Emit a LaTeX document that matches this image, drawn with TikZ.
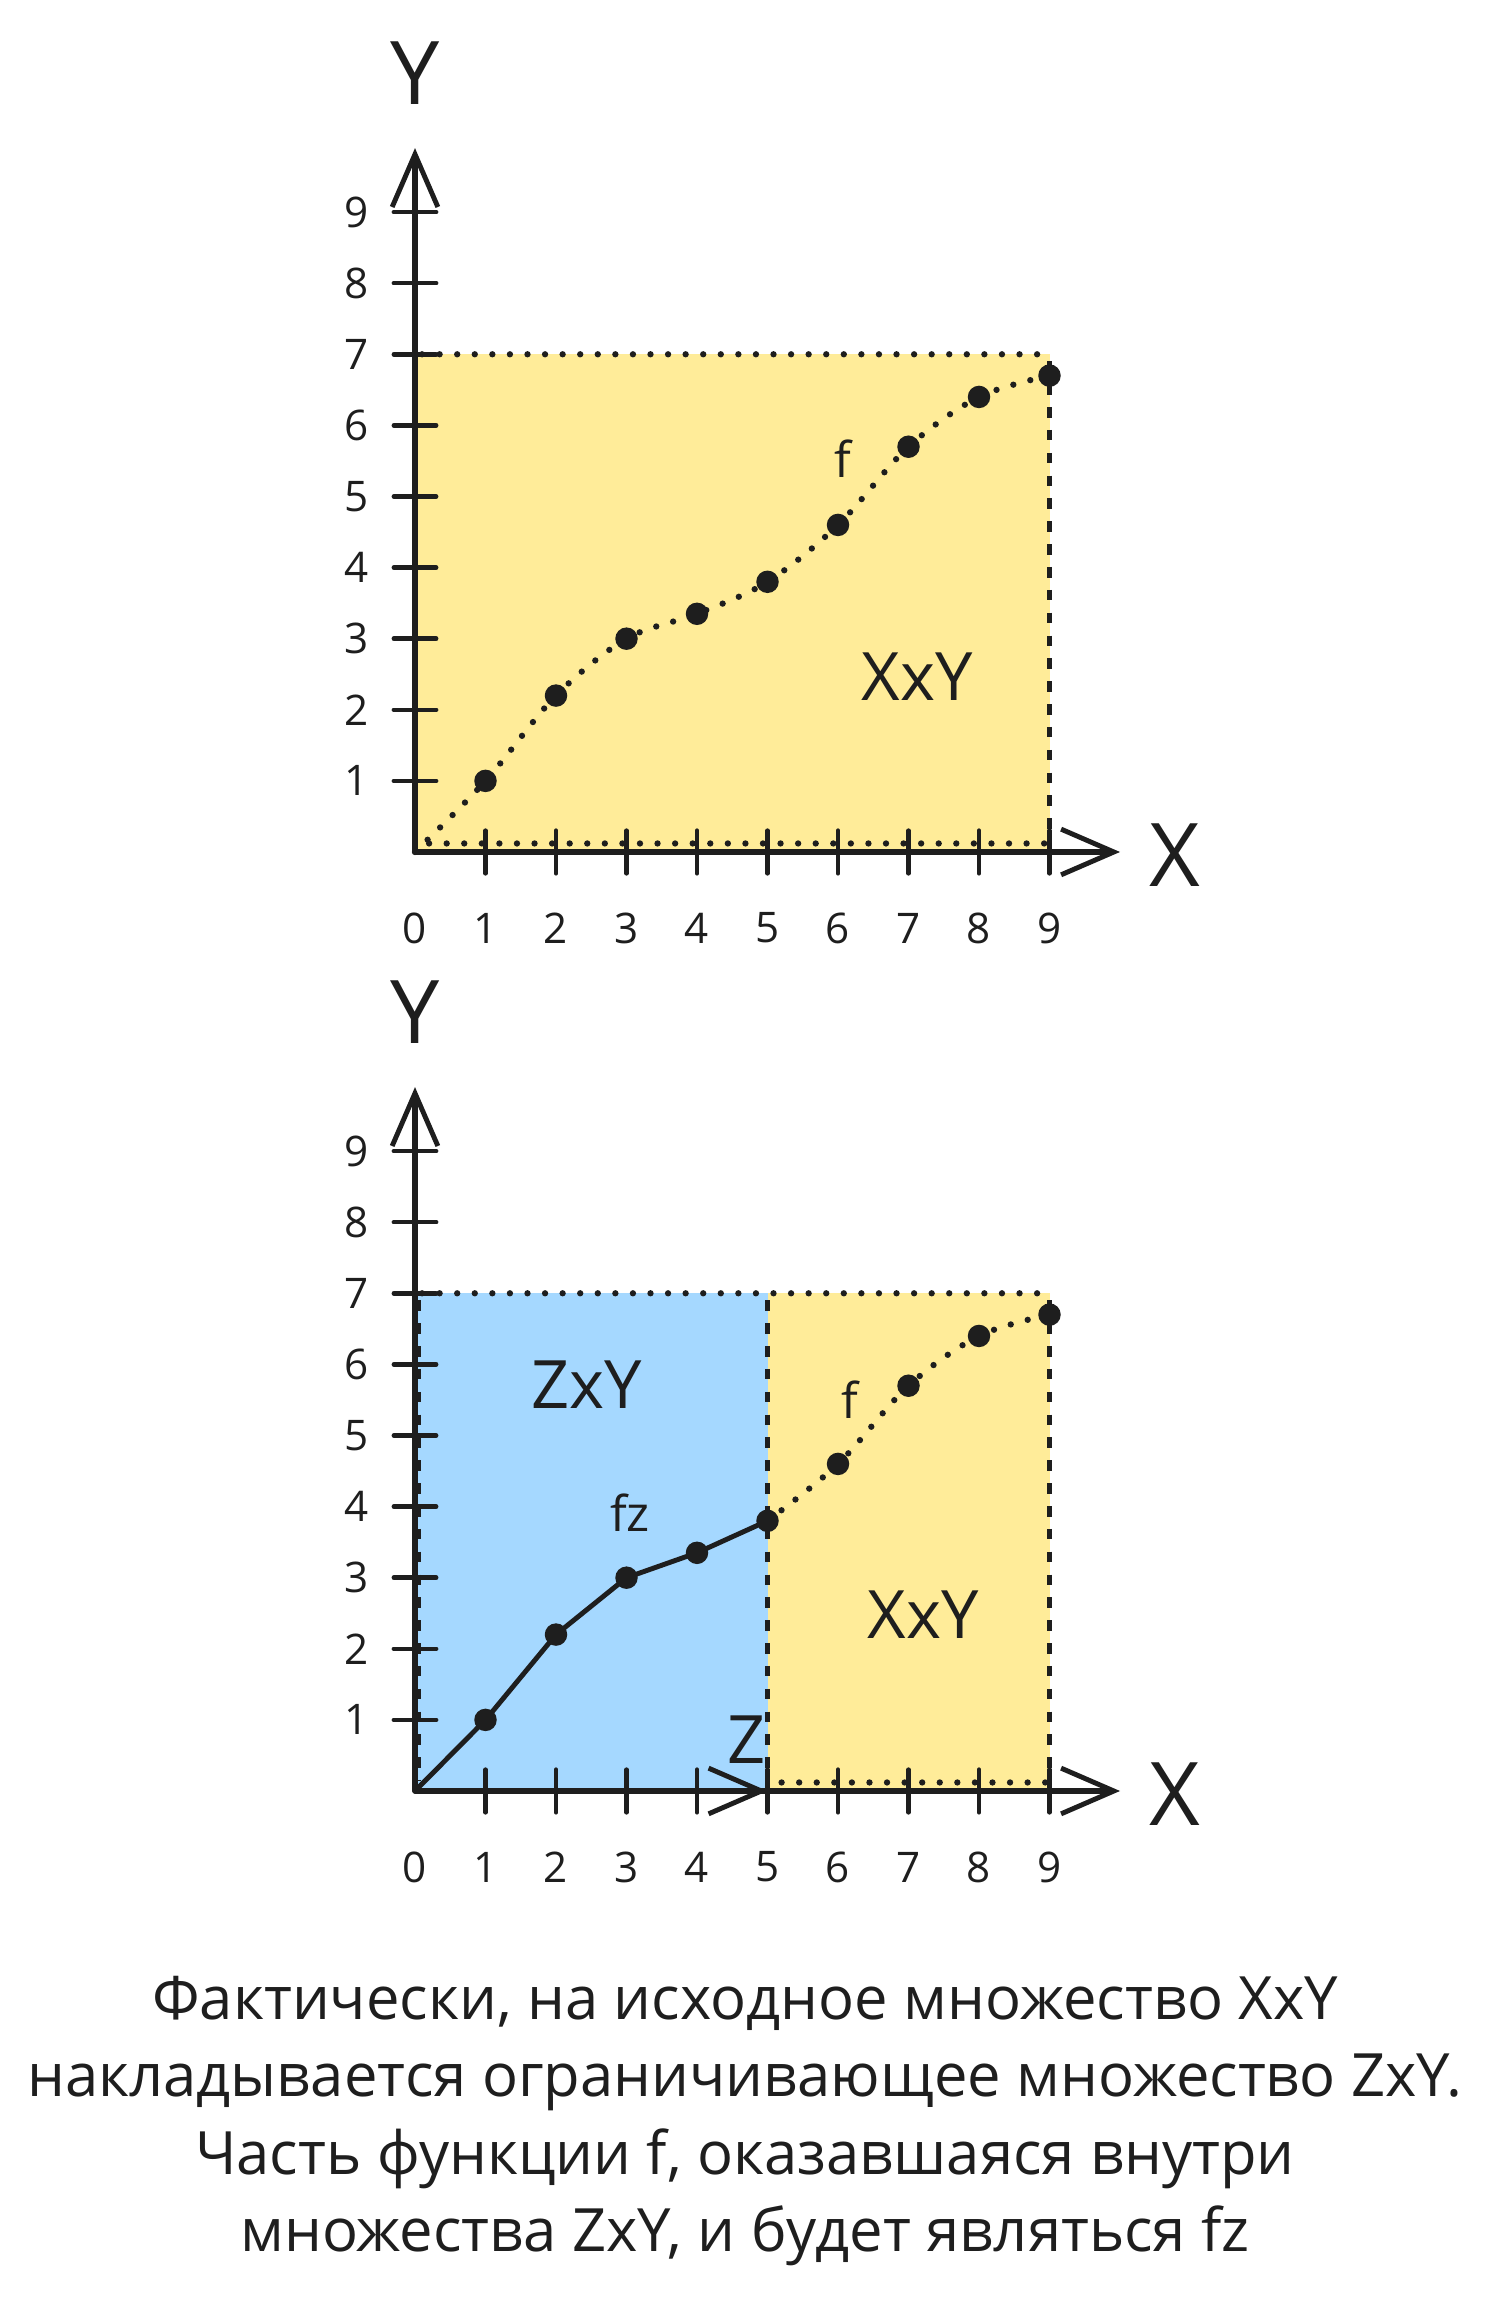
\documentclass[tikz,border=0pt]{standalone}
\usepackage{fontspec}
\setmainfont{Open Sans}
\usetikzlibrary{arrows.meta,positioning}
\definecolor{colSet}{RGB}{255,236,153}
\definecolor{colSub}{RGB}{165,216,255}
\definecolor{colInk}{RGB}{30,30,30}

\begin{document}
\begin{tikzpicture}[
    every node/.style={text=colInk},
    axis/.style={draw=colInk, line width=1.5pt, line cap=round, -{Straight Barb[length=15pt,width=13pt,line width=1.4pt]}},
    tick/.style={draw=colInk, line width=1.3pt, line cap=round},
    num/.style={font=\fontsize{12}{12}\selectfont},
    axlabel/.style={font=\fontsize{25}{25}\selectfont},
    setlabel/.style={font=\fontsize{19}{19}\selectfont},
    flabel/.style={font=\fontsize{14}{14}\selectfont},
    dots/.style={draw=colInk, line width=1.8pt, line cap=round, dash pattern=on 0pt off 5pt},
    edge/.style={draw=colInk, line width=1.2pt, dash pattern=on 3pt off 3.5pt},
    caption/.style={align=center, font=\fontsize{17}{22}\selectfont}
]
\useasboundingbox (0,0) rectangle (14.89,22.97);

% upper chart: the whole set XxY with f
\begin{scope}[shift={(4.15,14.45)}, x=0.705cm, y=0.711cm]
  \fill[colSet] (0,0) rectangle (9,7);
  \draw[dots] (0.1,7) -- (9,7);
  \draw[dots] (0.2,0.12) -- (9,0.12);
  \draw[edge] (9,6.9) -- (9,0.15);

  % axes
  \draw[axis] (0,0) -- (0,9.9);
  \draw[axis] (0,0) -- (10,0);
  \node[axlabel] (ya) at (0,10.96) {Y};
  \node[axlabel] (xa) at (10.78,-0.05) {X};
  \node[num] (xa0) at (0,-1.07) {0};
  \foreach \k in {1,...,9} {
    \draw[tick] (-0.3,\k) -- (0.3,\k);
    \draw[tick] (\k,-0.3) -- (\k,0.3);
    \node[num] (ya\k) at (-0.83,\k) {\k};
    \node[num] (xa\k) at (\k,-1.07) {\k};
  }

  % values of f
  \foreach \x/\y in {0/0, 1/1, 2/2.2, 3/3, 4/3.35, 5/3.8, 6/4.6, 7/5.7, 8/6.4, 9/6.7}
    \coordinate (a\x) at (\x,\y);
  \draw[dots] plot[smooth, tension=0.55] coordinates {(a0) (a1) (a2) (a3) (a4) (a5) (a6) (a7) (a8) (a9)};
  \foreach \x in {1,...,9} \fill[colInk] (a\x) circle (3.2pt);

  \node[flabel] (fa) at (6.07,5.53) {f};
  \node[setlabel] (xya) at (7.12,2.46) {XxY};
\end{scope}

% lower chart: the subset ZxY cuts out fz
\begin{scope}[shift={(4.15,5.06)}, x=0.705cm, y=0.711cm]
  \fill[colSub] (0,0) rectangle (5,7);
  \fill[colSet] (5,0) rectangle (9,7);
  \draw[dots] (0.1,7) -- (9,7);
  \draw[dots] (5.2,0.12) -- (9,0.12);
  \draw[edge] (0.06,6.9) -- (0.06,0.15);
  \draw[edge] (5,6.9) -- (5,0.15);
  \draw[edge] (9,6.9) -- (9,0.15);

  % axes
  \draw[axis] (0,0) -- (0,9.9);
  \draw[axis] (0,0) -- (10,0);
  \draw[axis] (4.3,0) -- (5,0);
  \node[axlabel] (yb) at (0,10.96) {Y};
  \node[axlabel] (xb) at (10.78,-0.05) {X};
  \node[num] (xb0) at (0,-1.07) {0};
  \foreach \k in {1,...,9} {
    \draw[tick] (-0.3,\k) -- (0.3,\k);
    \draw[tick] (\k,-0.3) -- (\k,0.3);
    \node[num] (yb\k) at (-0.83,\k) {\k};
    \node[num] (xb\k) at (\k,-1.07) {\k};
  }

  % fz inside ZxY, the rest of f outside
  \foreach \x/\y in {0/0, 1/1, 2/2.2, 3/3, 4/3.35, 5/3.8, 6/4.6, 7/5.7, 8/6.4, 9/6.7}
    \coordinate (b\x) at (\x,\y);
  \draw[colInk, line width=1.4pt, line join=round] (b0) -- (b1) -- (b2) -- (b3) -- (b4) -- (b5);
  \draw[dots] plot[smooth, tension=0.55] coordinates {(b5) (b6) (b7) (b8) (b9)};
  \foreach \x in {1,...,9} \fill[colInk] (b\x) circle (3.2pt);

  \node[setlabel] (zyb) at (2.43,5.71) {ZxY};
  \node[flabel] (fb) at (6.17,5.5) {f};
  \node[flabel] (fzb) at (3.05,3.92) {fz};
  \node[setlabel] (xyb) at (7.21,2.48) {XxY};
  \node[setlabel] (zb) at (4.7,0.72) {Z};
\end{scope}

\node[caption] (note) at (7.45,1.76) {Фактически, на исходное множество XxY\\
накладывается ограничивающее множество ZxY.\\
Часть функции f, оказавшаяся внутри\\
множества ZxY, и будет являться fz};
\end{tikzpicture}
\end{document}
